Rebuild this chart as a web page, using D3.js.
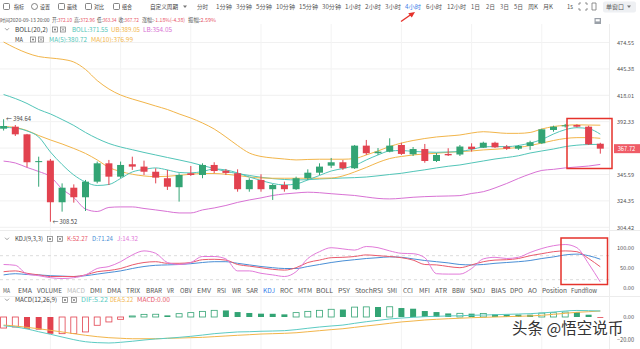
<!DOCTYPE html>
<html><head><meta charset="utf-8">
<script src="https://cdn.jsdelivr.net/npm/d3@7"></script>
<style>
html,body{margin:0;padding:0;background:#fff;}
svg{display:block;}
text{font-family:"Noto Sans CJK SC","Noto Sans",sans-serif;}
</style></head><body>
<svg id="c" width="640" height="349"></svg>
<script>
// ---------- DATA ----------
const opens  = [385.8,387.65,380.6,356.0,357.3,323.3,334.8,327.2,339.7,355.0,343.8,354.2,352.2,347.9,342.5,335.2,346.6,345.2,353.6,348.8,346.6,333.6,341.1,333.6,337.0,333.6,342.5,347.1,353.0,355.9,350.8,370.4,363.7,365.1,371.0,362.8,367.4,357.0,363.1,362.6,369.5,368.6,373.0,369.5,367.7,370.1,372.5,384.6,388.0,389.2,387.65,372.10];
const highs  = [394.64,389.2,381.0,360.7,358.7,338.3,337.5,341.1,356.5,357.9,356.5,360.7,357.3,350.8,349.4,346.6,352.7,355.0,355.9,350.2,349.9,342.5,345.8,337.8,339.7,343.8,349.9,355.0,359.6,357.9,371.0,375.5,368.3,377.0,373.0,369.2,371.9,363.9,368.1,371.0,372.5,373.9,373.9,371.0,371.0,374.8,385.8,388.6,390.2,389.9,388.6,372.96];
const lows   = [384.1,379.1,351.6,335.6,308.52,316.1,323.0,316.6,338.3,337.0,342.5,349.4,345.2,338.3,333.0,323.8,344.4,342.5,346.6,345.2,331.6,331.6,331.6,325.1,331.6,333.0,341.1,345.2,351.1,349.4,350.2,362.2,362.2,364.5,362.2,361.3,355.5,356.1,361.3,361.3,365.1,368.3,368.3,366.6,366.6,366.6,371.9,383.0,386.9,386.9,371.0,363.34];
const closes = [388.3,380.6,355.9,356.9,323.3,334.8,327.2,339.7,355.0,343.8,353.6,352.2,347.9,343.0,335.6,345.2,345.2,353.6,348.5,346.9,333.6,341.1,333.6,337.0,333.6,342.5,347.1,352.2,355.9,350.8,370.4,363.7,365.1,370.4,363.1,367.4,357.0,362.2,361.9,369.6,367.4,373.0,368.9,367.7,370.1,373.4,385.2,387.65,388.9,387.65,371.6,367.72];

const ma5  = [387.0,386.4,383.7,378.2,364.8,354.0,345.2,339.4,336.6,337.4,342.3,347.7,349.8,351.1,349.4,347.3,346.9,348.1,350.2,349.4,346.9,343.5,340.7,338.2,337.0,337.8,341.1,344.8,348.5,350.6,353.1,357.9,362.2,365.7,366.1,365.3,364.8,364.5,364.8,365.3,367.0,369.2,369.6,369.5,370.5,372.7,375.9,380.9,384.9,386.7,385.8,380.72];
const ma10 = [387.8,386.9,384.1,379.5,375.5,371.9,367.9,363.5,357.9,351.5,348.1,345.8,344.4,343.8,344.1,344.9,345.8,346.4,346.4,345.8,344.8,343.5,342.7,342.5,342.5,342.5,342.5,342.5,342.7,344.4,347.7,351.5,355.7,359.1,360.9,362.2,363.1,363.7,364.5,365.1,365.7,366.6,367.2,367.9,368.8,370.5,372.7,375.0,376.8,377.6,377.6,376.99];
const bollMid = [418.8,414.8,409.9,404.0,399.7,394.4,388.8,382.3,376.8,372.3,369.2,366.8,364.4,362.2,360.0,357.9,355.7,353.1,350.6,348.1,346.4,344.8,343.3,342.2,341.5,341.1,341.3,341.9,342.3,342.7,343.0,343.5,344.5,345.6,346.6,348.1,349.5,351.1,352.5,353.6,355.3,357.0,358.7,360.0,361.5,363.9,365.7,367.4,369.5,370.8,371.4,371.55];
const bollUp  = [475.1,468.3,462.7,458.8,457.2,455.8,452.8,444.8,433.1,424.4,418.3,414.3,410.9,407.4,404.0,399.7,395.8,391.1,385.5,378.2,370.5,363.9,360.9,359.6,358.7,357.9,358.3,358.5,358.5,358.5,359.1,362.2,365.7,369.6,372.7,375.0,376.8,378.2,379.1,380.0,381.8,383.0,382.3,381.5,381.5,382.3,385.5,387.8,388.9,389.4,389.2,389.05];
const bollLow = [356.9,355.3,351.5,348.1,343.8,333.8,327.0,318.1,316.2,319.3,319.7,319.7,318.5,317.4,316.2,315.1,315.1,317.4,318.9,320.8,323.2,325.1,326.7,328.6,329.8,330.6,331.2,330.8,330.0,329.3,328.6,327.4,326.3,325.9,326.4,327.2,327.7,328.0,328.2,328.5,330.2,331.6,334.6,338.2,342.3,346.0,349.0,349.9,351.1,351.9,352.7,354.05];

const kdjK = [40,42,36,32,28,28,28,32,40,43,48,57,63,65,61,61,63,70,71,69,58,54,50,46,44,50,63,69,75,76,78,82,80,78,75,69,58,57,53,50,57,65,69,70,73,80,85,90,92,90,73,52.27];
const kdjD = [32,35,33,32,30,29,28,30,34,38,42,48,53,56,57,58,60,63,65,65,61,57,53,50,48,48,53,58,63,67,70,73,75,77,76,72,68,65,62,58,57,58,61,63,65,68,73,77,82,84,80,71.24];
const kdjJ = [58,56,34,30,25,23,25,32,48,53,65,82,92,86,63,58,63,78,78,72,42,42,36,32,28,40,73,90,100,97,94,103,100,92,86,85,75,35,34,34,48,72,76,73,76,88,98,105,108,100,60,14.32];

const macdDif = [-7.6,-8.7,-10.4,-12.8,-15.0,-17.4,-19.7,-21.5,-22.3,-22.6,-22.0,-21.1,-20.0,-19.1,-18.5,-17.7,-16.8,-15.7,-14.5,-13.7,-13.0,-12.8,-12.4,-12.2,-11.9,-11.0,-9.8,-8.7,-7.8,-7.0,-5.5,-4.1,-2.9,-1.7,-0.9,-0.3,0.3,0.6,0.9,1.1,1.5,1.7,2.0,2.3,2.6,2.9,3.5,4.3,5.2,5.7,5.5,5.22];
const macdDea = [-7.0,-7.8,-9.0,-10.2,-11.6,-13.0,-14.5,-15.9,-17.1,-18.0,-18.5,-18.9,-18.9,-18.9,-18.5,-18.3,-18.0,-17.7,-17.1,-16.5,-15.9,-15.4,-14.8,-14.5,-14.2,-13.7,-12.8,-11.9,-11.0,-10.2,-9.0,-7.8,-6.7,-5.5,-4.3,-3.5,-2.6,-2.0,-1.5,-1.1,-0.6,-0.3,0,0.3,0.6,0.9,1.5,2.3,3.2,4.1,4.6,5.22];
const macdHist = [-9.6,-8.7,-10.2,-11.0,-14.6,-14.5,-14.3,-13.0,-7.2,-4.3,-2.0,0.9,2.3,2.4,1.4,2.9,3.8,4.9,5.8,5.7,4.3,3.5,2.9,2.8,2.3,3.8,4.9,5.8,6.7,6.5,8.6,8.8,8.7,8.9,7.8,7.2,5.2,4.3,3.1,3.2,2.9,3.0,2.4,2.3,2.1,2.0,3.4,3.7,4.3,4.2,2.0,0];

const priceTicks = [474.55,445.38,418.01,392.33,368.22,345.59,324.35,304.42];
const kdjTicks = [100,50,0];
const macdTicks = [0,-20];
const lastPrice = 367.72;
const highMark = 394.64, lowMark = 308.52;

const toolItems = ["指标","设置","画线","对比","组合","自定义周期"];
const periods = ["分时","1分钟","3分钟","5分钟","10分钟","15分钟","30分钟","1小时","2小时","3小时","4小时","6小时","12小时","1日","2日","3日","5日","周K","月K","1s"];
const indicatorTabs = ["MA","EMA","VOLUME","MACD","DMI","DMA","TRIX","BRAR","VR","OBV","EMV","RSI","WR","SAR","KDJ","ROC","MTM","BOLL","PSY","StochRSI","SMI","CCI","MFI","ATR","BBW","SKDJ","BIAS","DPO","AO","Position","Fundflow"];

// ---------- LAYOUT ----------
const svg = d3.select('#c');
const n = closes.length;
const UP = '#33a474', DOWN = '#e2424f';
const C_TEAL = '#52c5b8', C_ORANGE = '#f2b54a', C_PINK = '#d872d4';
const C_K = '#e95a6c', C_D = '#4a8fd6', C_J = '#e27ad9', C_RED = '#e8596b';
const x = d3.scaleLinear().domain([0, n-1]).range([3.6, 600.3]);
const y = d3.scaleLog().domain([304.42, 474.55]).range([227.3, 42.5]);
const yK = d3.scaleLinear().domain([0, 100]).range([287.7, 247.7]);
const yM = d3.scaleLinear().domain([-20, 0]).range([340, 317]);

const defs = svg.append('defs');
defs.append('clipPath').attr('id','mainClip').append('rect').attr('x',0).attr('y',24).attr('width',609).attr('height',206);
defs.append('clipPath').attr('id','macdClip').append('rect').attr('x',0).attr('y',305).attr('width',609).attr('height',44);

function tx(x0, x1, yb, s, col, size){
  const t = svg.append('text').attr('x',x0).attr('y',yb).attr('font-size',size).attr('fill',col).text(s);
  if(x1!=null){ t.attr('textLength',x1-x0).attr('lengthAdjust','spacingAndGlyphs'); }
  return t;
}
function tx2(x0, x1, yb, a, b, colA, colB, size){
  const t = svg.append('text').attr('x',x0).attr('y',yb).attr('font-size',size)
    .attr('textLength',x1-x0).attr('lengthAdjust','spacingAndGlyphs');
  t.append('tspan').attr('fill',colA).text(a);
  t.append('tspan').attr('fill',colB).text(b);
  return t;
}

// grid
const grid = svg.append('g');
grid.selectAll('line.h').data(priceTicks).join('line')
  .attr('x1',0).attr('x2',609).attr('y1',d=>y(d)).attr('y2',d=>y(d))
  .attr('stroke','#f1f1f1').attr('stroke-width',1);
grid.selectAll('line.v').data(d3.range(n).filter(i=>i%6===4)).join('line')
  .attr('x1',d=>x(d)).attr('x2',d=>x(d)).attr('y1',24).attr('y2',349)
  .attr('stroke','#f3f3f3').attr('stroke-width',1);
grid.selectAll('line.k').data([80,20]).join('line')
  .attr('x1',0).attr('x2',609).attr('y1',d=>yK(d)).attr('y2',d=>yK(d))
  .attr('stroke','#dcdcdc').attr('stroke-dasharray','3,3');
[230.5, 296.5].forEach(v=>svg.append('line').attr('x1',0).attr('x2',640).attr('y1',v).attr('y2',v).attr('stroke','#ececec'));
svg.append('line').attr('x1',609.5).attr('x2',609.5).attr('y1',24).attr('y2',349).attr('stroke','#ededed');

// ---------- MAIN PANE ----------
const main = svg.append('g').attr('clip-path','url(#mainClip)');
const line = (arr, sc) => d3.line().x((d,i)=>x(i)).y(d=>sc(d)).curve(d3.curveMonotoneX)(arr);
[[bollUp,C_ORANGE],[bollLow,C_PINK],[bollMid,C_TEAL],[ma10,C_ORANGE],[ma5,C_TEAL]].forEach(([a,c])=>{
  main.append('path').attr('d',line(a,y)).attr('fill','none').attr('stroke',c).attr('stroke-width',1);
});
const candles = d3.range(n).map(i=>({i,o:opens[i],h:highs[i],l:lows[i],c:closes[i]}));
const cg = main.selectAll('g.candle').data(candles).join('g');
cg.append('line').attr('x1',d=>x(d.i)).attr('x2',d=>x(d.i)).attr('y1',d=>y(d.h)).attr('y2',d=>y(d.l))
  .attr('stroke',d=>d.c>=d.o?UP:DOWN).attr('stroke-width',1);
cg.append('rect').attr('x',d=>x(d.i)-3.5).attr('width',7)
  .attr('y',d=>Math.min(y(d.o),y(d.c)))
  .attr('height',d=>Math.max(1,Math.abs(y(d.o)-y(d.c))))
  .attr('fill',d=>d.c>=d.o?UP:DOWN);

const iHigh = highs.indexOf(highMark), iLow = lows.indexOf(lowMark);
tx(x(iHigh)+2.5, null, y(highMark)+2, '← '+highMark.toFixed(2), '#444', 5.8);
tx(x(iLow)+2, null, y(lowMark)+2, '← '+lowMark.toFixed(2), '#444', 5.8);

function rightAxis(scale, ticks, fmt){
  const g = svg.append('g').attr('transform','translate(634,0)')
    .call(d3.axisLeft(scale).tickValues(ticks).tickFormat(fmt).tickSize(0).tickPadding(0));
  g.select('.domain').remove();
  g.selectAll('text').attr('font-size',5.6).attr('fill','#555').attr('font-family','"Noto Sans CJK SC","Noto Sans",sans-serif');
  return g;
}
rightAxis(y, priceTicks.filter(t=>Math.abs(y(t)-y(lastPrice))>6), d3.format('.2f'));
rightAxis(yK, kdjTicks, d3.format('.2f'));
rightAxis(yM, macdTicks, d3.format('.2f'));
svg.append('rect').attr('x',614).attr('y',y(lastPrice)-4.5).attr('width',26).attr('height',9).attr('fill','#ef5c67');
svg.append('text').attr('x',626.5).attr('y',y(lastPrice)+2).attr('text-anchor','middle').attr('font-size',5.8).attr('fill','#fff').text(lastPrice.toFixed(2));

// ---------- KDJ ----------
[[kdjD,C_D],[kdjK,C_K],[kdjJ,C_J]].forEach(([a,c])=>{
  svg.append('path').attr('d',line(a,yK)).attr('fill','none').attr('stroke',c).attr('stroke-width',1);
});

// ---------- MACD ----------
const mg = svg.append('g').attr('clip-path','url(#macdClip)');
const isHollow = d => d.v>0 ? (d.v>d.prev) : (d.v>=d.prev && d.v!==0);
mg.selectAll('rect').data(macdHist.map((v,i)=>({v,i,prev:i?macdHist[i-1]:v}))).join('rect')
  .attr('x',d=>x(d.i)-3).attr('width',6)
  .attr('y',d=>d.v>=0?yM(d.v):yM(0))
  .attr('height',d=>Math.max(0.8,Math.abs(yM(d.v)-yM(0))))
  .attr('fill',d=>isHollow(d)?'#fff':(d.v>0?UP:DOWN))
  .attr('stroke',d=>isHollow(d)?(d.v>0?UP:DOWN):'none')
  .attr('stroke-width',0.8);
[[macdDea,C_ORANGE],[macdDif,'#5ccbc3']].forEach(([a,c])=>{
  mg.append('path').attr('d',line(a,yM)).attr('fill','none').attr('stroke',c).attr('stroke-width',1);
});

// ---------- HEADER / CHROME ----------
const iconX = [3,31,58,85,113];
iconX.forEach((ix,k)=>{
  svg.append('rect').attr('x',ix+0.5).attr('y',3.5).attr('width',6).attr('height',6).attr('rx',k===1?3:1)
    .attr('fill','none').attr('stroke','#666').attr('stroke-width',0.8);
});
const toolSpan = [[14,24],[40,50],[67,77],[94,104],[122,132],[150,178]];
toolItems.forEach((s,k)=>tx(toolSpan[k][0],toolSpan[k][1],8.6,s,'#444',6));
svg.append('path').attr('d','M183,5.5l2,2.4l2,-2.4z').attr('fill','#777');
const periodSpan = [[197,208],[216,232],[236,252],[256,272],[276,295],[299,318],[322,341],[345,361],[365,381],[385,401],[405,421],[426,442],[447,466],[471,480],[486,495],[500,509],[514,523],[528,538],[543,553],[567,573]];
periods.forEach((s,k)=>tx(periodSpan[k][0],periodSpan[k][1],8.6,s,s==='4小时'?'#3a7ee8':'#555',6));
[[579,3],[591,3]].forEach(([ix,iy],k)=>{
  const g=svg.append('g').attr('stroke','#777').attr('stroke-width',0.8).attr('fill','none');
  if(k===0){ g.append('path').attr('d',`M${ix},${iy+2}v-2h2 M${ix+6},${iy}h2v2 M${ix},${iy+5}v2h2 M${ix+6},${iy+7}h2v-2`); }
  else { g.append('path').attr('d',`M${ix+1},${iy}h4v7h-4z`); }
});
svg.append('rect').attr('x',603).attr('y',1.5).attr('width',33).attr('height',11).attr('rx',2).attr('fill','#eef0f3');
tx(606,624,8.6,'单窗口','#555',6);
svg.append('path').attr('d','M627,5.5l2,2.4l2,-2.4z').attr('fill','#777');
svg.append('rect').attr('x',594.5).attr('y',18).attr('width',6.5).attr('height',6).attr('fill','#9aa0a8');
svg.append('rect').attr('x',595.7).attr('y',19.2).attr('width',4).attr('height',2.2).attr('fill','#fff');

// info row
tx(0,49.5,22.2,'时间2020-09-13 20:00','#555',4.9);
const info = [[52,72,'开:','372.10'],[74,95,'高:','372.96'],[97,116.5,'低:','363.34'],[118.5,139,'收:','367.72'],[142,185,'涨幅:','-1.18%(-4.38)'],[188,216,'振幅:','2.59%']];
info.forEach(([a,b,l,v])=>tx2(a,b,22.2,l,v,'#555',C_RED,5.4));

function legendRow(yc, title, titleEnd, iconXs, items, chevron){
  if(chevron) svg.append('path').attr('d',`M5,${yc-1.3}l2,2l2,-2`).attr('fill','none').attr('stroke','#888').attr('stroke-width',0.8);
  tx(15, titleEnd, yc+2.1, title, '#444', 6);
  iconXs.forEach((ix,k)=>{
    svg.append('rect').attr('x',ix+0.5).attr('y',yc-2.5).attr('width',5).attr('height',5).attr('fill','#fff').attr('stroke','#777').attr('stroke-width',0.7);
    if(k===0) svg.append('circle').attr('cx',ix+3).attr('cy',yc).attr('r',1).attr('fill','#777');
    else svg.append('path').attr('d',`M${ix+1.8},${yc-1.3}l2.4,2.6M${ix+4.2},${yc-1.3}l-2.4,2.6`).attr('stroke','#777').attr('stroke-width',0.7);
  });
  items.forEach(([a,b,s,c])=>tx(a,b,yc+2.1,s,c,6));
}
legendRow(29.5,'BOLL(20,2)',48,[52,60],[[72,108,'BOLL:371.55',C_TEAL],[111,140,'UB:389.05',C_ORANGE],[143,172,'LB:354.05',C_PINK]],true);
legendRow(39.5,'MA',23,[30,38],[[49,87,'MA(5):380.72',C_TEAL],[91,133,'MA(10):376.99',C_ORANGE]],false);
legendRow(239,'KDJ(9,3,3)',43,[47,57],[[67,88,'K:52.27',C_K],[92,113,'D:71.24',C_D],[117,138,'J:14.32',C_J]],true);
legendRow(300,'MACD(12,26,9)',57,[62,71],[[81,108,'DIF:5.22','#5ccbc3'],[110,133,'DEA:5.22',C_ORANGE],[137,170,'MACD:0.00',C_RED]],true);

const tabSpan = [[3,10],[18,32],[37,62],[67,85],[90,102],[107,121],[126,140],[146,162],[167,174],[180,192],[197,211],[217,226],[232,241],[246,258],[263,275],[280,293],[298,312],[316,333],[338,350],[355,383],[387,397],[403,413],[419,430],[435,447],[452,465],[470,485],[491,506],[510,523],[528,537],[542,567],[571,597]];
indicatorTabs.forEach((s,k)=>tx(tabSpan[k][0],tabSpan[k][1],292.6,s,s==='KDJ'?'#3a7ee8':(s==='MACD'?'#bbb':'#555'),6));

// watermark
svg.append('text').attr('x',512).attr('y',334).attr('font-size',15.5).attr('fill','#333')
  .attr('stroke','#fff').attr('stroke-width',3).attr('paint-order','stroke').attr('stroke-linejoin','round')
  .text('头条 @悟空说币');

// annotation boxes & arrow
const ann = '#e5322b';
svg.append('rect').attr('x',567).attr('y',118.5).attr('width',45).attr('height',50).attr('fill','none').attr('stroke',ann).attr('stroke-width',1.5);
svg.append('rect').attr('x',561).attr('y',238).attr('width',46.5).attr('height',46.5).attr('fill','none').attr('stroke',ann).attr('stroke-width',1.5);
svg.append('line').attr('x1',401).attr('y1',21.5).attr('x2',411).attr('y2',14.5).attr('stroke',ann).attr('stroke-width',1.4);
svg.append('path').attr('d','M415,12 L408.2,13.2 L411.8,17.6 Z').attr('fill',ann);
</script>
</body></html>
